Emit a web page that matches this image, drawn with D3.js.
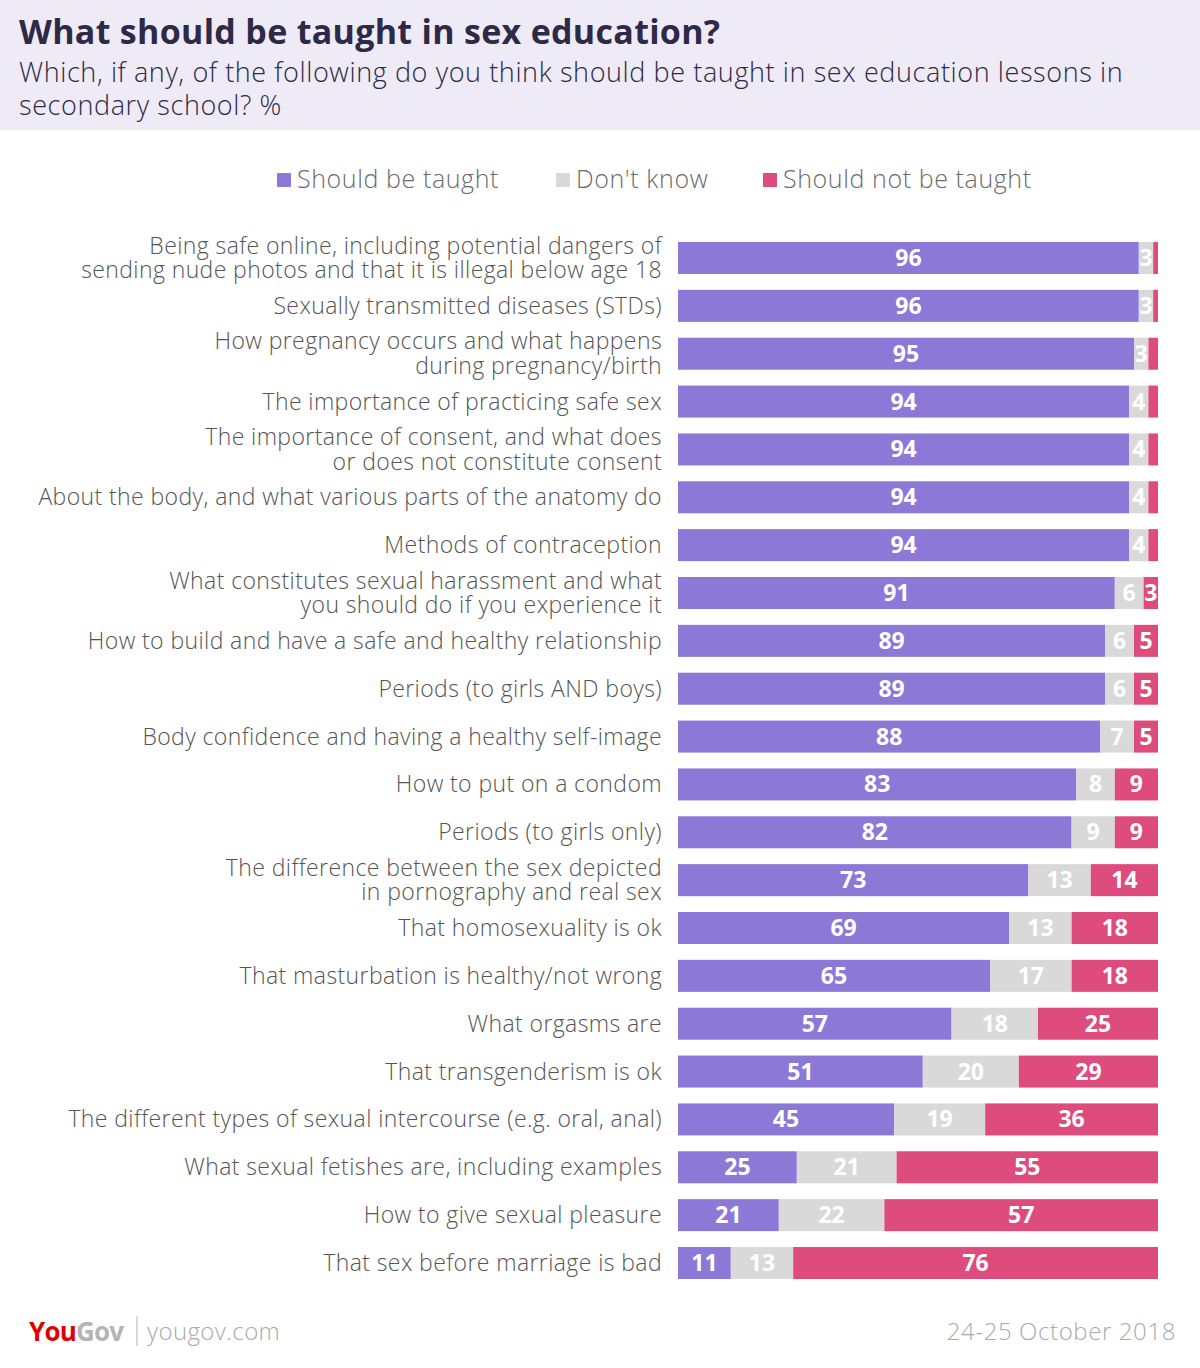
<!DOCTYPE html>
<html><head><meta charset="utf-8">
<script src="https://cdn.jsdelivr.net/npm/d3@7"></script>
<style>
body{margin:0;background:#fff;}
svg text{font-family:"Open Sans",Lato,sans-serif;}
</style></head>
<body>
<svg id="chart" width="1200" height="1368"></svg>
<script>
const categories = [
 ["Being safe online, including potential dangers of","sending nude photos and that it is illegal below age 18"],
 ["Sexually transmitted diseases (STDs)"],
 ["How pregnancy occurs and what happens","during pregnancy/birth"],
 ["The importance of practicing safe sex"],
 ["The importance of consent, and what does","or does not constitute consent"],
 ["About the body, and what various parts of the anatomy do"],
 ["Methods of contraception"],
 ["What constitutes sexual harassment and what","you should do if you experience it"],
 ["How to build and have a safe and healthy relationship"],
 ["Periods (to girls AND boys)"],
 ["Body confidence and having a healthy self-image"],
 ["How to put on a condom"],
 ["Periods (to girls only)"],
 ["The difference between the sex depicted","in pornography and real sex"],
 ["That homosexuality is ok"],
 ["That masturbation is healthy/not wrong"],
 ["What orgasms are"],
 ["That transgenderism is ok"],
 ["The different types of sexual intercourse (e.g. oral, anal)"],
 ["What sexual fetishes are, including examples"],
 ["How to give sexual pleasure"],
 ["That sex before marriage is bad"]
];
const shouldBeTaught =    [96,96,95,94,94,94,94,91,89,89,88,83,82,73,69,65,57,51,45,25,21,11];
const dontKnow =          [3,3,3,4,4,4,4,6,6,6,7,8,9,13,13,17,18,20,19,21,22,13];
const shouldNotBeTaught = [1,1,2,2,2,2,2,3,5,5,5,9,9,14,18,18,25,29,36,55,57,76];
const seriesNames = ["Should be taught","Don't know","Should not be taught"];
const colors = ["#8c79d7","#d9d9d9","#de4c7d"];

const svg = d3.select("#chart");
// header
svg.append("rect").attr("x",0).attr("y",0).attr("width",1200).attr("height",130).attr("fill","#eeebf6");
svg.append("text").attr("x",19).attr("y",44).attr("font-size",34).attr("font-weight",700).attr("fill","#2e2946")
  .attr("font-family","Lato").attr("letter-spacing",0.3)
  .text("What should be taught in sex education?");
svg.append("text").attr("x",19).attr("y",82).attr("font-size",27).attr("font-weight",300).attr("fill","#2e2946")
  .attr("letter-spacing",0.6)
  .text("Which, if any, of the following do you think should be taught in sex education lessons in");
svg.append("text").attr("x",19).attr("y",115).attr("font-size",27).attr("font-weight",300).attr("fill","#2e2946")
  .attr("letter-spacing",0.6)
  .text("secondary school? %");

// legend
const legendX = [277, 556, 763];
seriesNames.forEach((n,i)=>{
  const g = svg.append("g").attr("transform",`translate(${legendX[i]},0)`);
  g.append("rect").attr("x",0).attr("y",173).attr("width",14).attr("height",14).attr("fill",colors[i]);
  g.append("text").attr("x",20).attr("y",188).attr("font-size",25).attr("font-weight",300).attr("letter-spacing",0.6)
    .attr("fill","#6b6b6b").text(n);
});

const rows = categories.map((c,i)=>({label:c, vals:[shouldBeTaught[i],dontKnow[i],shouldNotBeTaught[i]]}));
const y = d3.scaleBand().domain(d3.range(rows.length)).range([242,1279]).paddingInner(0.331).paddingOuter(0);
const x = d3.scaleLinear().domain([0,1]).range([678,1158]);

rows.forEach((r,i)=>{
  const tot = d3.sum(r.vals);
  let cum = 0;
  const g = svg.append("g");
  r.vals.forEach((v,j)=>{
    const x0 = x(cum/tot), x1 = x((cum+v)/tot);
    g.append("rect").attr("x",x0).attr("y",y(i)).attr("width",x1-x0).attr("height",y.bandwidth()).attr("fill",colors[j]);
    if (v>=3){
      g.append("text").attr("x",(x0+x1)/2).attr("y",y(i)+y.bandwidth()/2+8).attr("text-anchor","middle")
        .attr("font-family","Lato")
        .attr("font-size",23).attr("font-weight",700).attr("fill","#fff").text(v);
    }
    cum += v;
  });
  const cy = y(i)+y.bandwidth()/2;
  const n = r.label.length;
  r.label.forEach((line,k)=>{
    svg.append("text").attr("x",662).attr("y",cy + 8 + (k-(n-1)/2)*24.5).attr("text-anchor","end")
      .attr("font-size",23).attr("font-weight",300).attr("letter-spacing",0.4).attr("fill","#555").text(line);
  });
});

// footer
const f = svg.append("text").attr("x",29).attr("y",1341).attr("font-family","Lato").attr("font-size",26).attr("font-weight",700).attr("letter-spacing",-0.8);
f.append("tspan").attr("fill","#e00000").text("You");
f.append("tspan").attr("fill","#b4b4b4").text("Gov");
svg.append("line").attr("x1",137).attr("x2",137).attr("y1",1316).attr("y2",1346).attr("stroke","#b4b4b4").attr("stroke-width",1);
svg.append("text").attr("x",147).attr("y",1340).attr("font-size",24).attr("font-weight",300).attr("letter-spacing",0.4).attr("fill","#aaa").text("yougov.com");
svg.append("text").attr("x",1176).attr("y",1340).attr("text-anchor","end").attr("font-size",24).attr("font-weight",300).attr("letter-spacing",0.6).attr("fill","#aaa").text("24-25 October 2018");
</script>
</body></html>
